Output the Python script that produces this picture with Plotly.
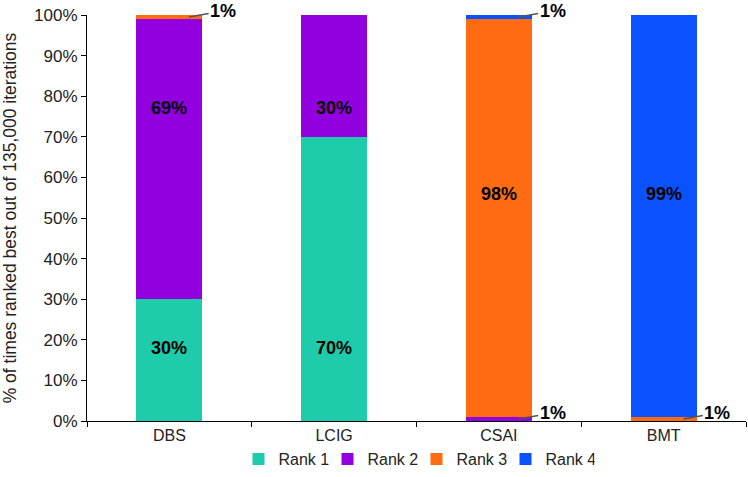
import plotly.graph_objects as go

categories = ["DBS", "LCIG", "CSAI", "BMT"]
rank1 = [30, 70, 0, 0]
rank2 = [69, 30, 1, 0]
rank3 = [1, 0, 98, 1]
rank4 = [0, 0, 1, 99]
series_names = ["Rank 1", "Rank 2", "Rank 3", "Rank 4"]
colors = ["#1ECBAA", "#9300E0", "#FF6B12", "#0B52FF"]
y_ticks = list(range(0, 101, 10))
# vertical placement (in axis %) of the big in-bar labels, per rank series
label_y = [18, 77, 56, 56]

font = "Liberation Sans, Arial, sans-serif"
fig = go.Figure()
all_series = [rank1, rank2, rank3, rank4]
for name, vals, col in zip(series_names, all_series, colors):
    fig.add_trace(go.Bar(
        x=categories, y=vals, name=name, marker_color=col, marker_line_width=0,
        width=0.4, hoverinfo="skip",
    ))

for si, vals in enumerate(all_series):
    for ci, v in enumerate(vals):
        if v >= 5:
            fig.add_annotation(
                x=ci, y=label_y[si], xref="x", yref="y", showarrow=False,
                text=f"<b>{v}%</b>",
                font=dict(family=font, size=18, color="black"),
            )

# leader-line labels for small segments
for ci in range(len(categories)):
    cum = 0
    for vals in all_series:
        v = vals[ci]
        if 0 < v < 5:
            fig.add_annotation(
                x=ci + 0.12, y=cum + v / 2, xref="x", yref="y",
                text=f"<b>{v}%</b>", showarrow=True, arrowhead=0, arrowwidth=1.5,
                arrowcolor="#555555", ax=34, ay=-6, xanchor="center",
                font=dict(family=font, size=18, color="black"),
            )
        cum += v

fig.update_layout(
    barmode="stack", width=748, height=477,
    margin=dict(l=87, r=2, t=15, b=55),
    plot_bgcolor="white", paper_bgcolor="white",
    font=dict(family=font, color="#222222"),
    showlegend=True,
    legend=dict(orientation="h", x=0.5, xanchor="center", y=-0.133, yanchor="bottom",
                font=dict(size=16, color="#222222"), traceorder="normal",
                entrywidth=44),
    xaxis=dict(showline=True, linecolor="black", linewidth=1, ticks="outside",
               tickson="boundaries", ticklen=5, tickcolor="black", automargin=False,
               tickfont=dict(size=16, color="#222222"), range=[-0.5, 3.5]),
    yaxis=dict(range=[0, 100], tickvals=y_ticks, ticktext=[f"{t}%" for t in y_ticks],
               showline=True, linecolor="black", linewidth=1, ticks="outside",
               ticklen=5, tickcolor="black", showgrid=False, zeroline=False,
               automargin=False,
               tickfont=dict(size=17, color="#222222"),
               title=dict(text="% of times ranked best out of 135,000 iterations",
                          font=dict(size=17.5, color="#222222"), standoff=17)),
)
fig.write_html("out.html", config={"displayModeBar": False},
               post_script="document.body.style.margin='0';")
